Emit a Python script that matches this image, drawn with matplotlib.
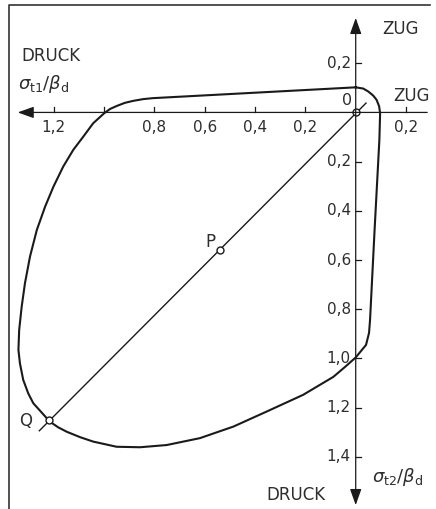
import matplotlib
matplotlib.use("Agg")
import matplotlib.pyplot as plt
import numpy as np

# Failure envelope (sigma1, sigma2)/beta_d, tension positive, compression negative
env_s1 = [0.000, 0.030, 0.050, 0.070, 0.083, 0.093, 0.097, 0.094, 0.075, 0.057,
          0.053, 0.041, 0.000, -0.043, -0.089, -0.209, -0.354, -0.486, -0.619,
          -0.751, -0.857, -0.950, -1.043, -1.095, -1.148, -1.182, -1.215, -1.281,
          -1.301, -1.321, -1.334, -1.340, -1.337, -1.327, -1.314, -1.294, -1.267,
          -1.234, -1.201, -1.162, -1.122, -1.082, -1.043, -0.999, -0.976, -0.950,
          -0.917, -0.884, -0.845, -0.807, 0.000]
env_s2 = [0.102, 0.097, 0.085, 0.068, 0.051, 0.025, -0.003, -0.112, -0.478, -0.843,
          -0.896, -0.945, -0.996, -1.035, -1.075, -1.148, -1.216, -1.277, -1.324,
          -1.352, -1.361, -1.359, -1.338, -1.320, -1.298, -1.280, -1.257, -1.182,
          -1.142, -1.087, -1.020, -0.965, -0.884, -0.789, -0.694, -0.586, -0.478,
          -0.383, -0.302, -0.220, -0.152, -0.098, -0.044, -0.003, 0.014, 0.026,
          0.039, 0.047, 0.054, 0.058, 0.102]

# Points on the diagonal
pts_name = ["0", "P", "Q"]
pts_s1 = [0.0, -0.539, -1.217]
pts_s2 = [0.0, -0.559, -1.250]
diag_s1 = [0.041, -1.257]
diag_s2 = [0.038, -1.294]

# Ticks
xticks = [-1.2, -1.0, -0.8, -0.6, -0.4, -0.2, 0.2]
xtick_labels = ["1,2", "", "0,8", "0,6", "0,4", "0,2", "0,2"]
yticks = [0.2, -0.2, -0.4, -0.6, -0.8, -1.0, -1.2, -1.4]
ytick_labels = ["0,2", "0,2", "0,4", "0,6", "0,8", "1,0", "1,2", "1,4"]

plt.rcParams['font.family'] = ['DejaVu Sans']
plt.rcParams['mathtext.fontset'] = 'dejavusans'

fig = plt.figure(figsize=(4.36, 5.09), dpi=100)
ax = fig.add_axes([0, 0, 1, 1])
ax.set_xlim(-1.4132, 0.319)
ax.set_ylim(-1.612, 0.457)
ax.axis('off')

ink = '#1a1a1a'
tc = '#2e2e2e'

# frame (left & top)
ax.plot([0.0195, 0.0195, 0.986], [0.0, 0.990, 0.990], transform=ax.transAxes,
        color='#333333', lw=1.2, clip_on=False)

# axes with arrows
ax.annotate('', xy=(-1.354, 0), xytext=(0.295, 0),
            arrowprops=dict(arrowstyle='-|>,head_length=0.7,head_width=0.25',
                            mutation_scale=14, lw=0.9, color=ink))
ax.annotate('', xy=(0, 0.384), xytext=(0, 0.0),
            arrowprops=dict(arrowstyle='-|>,head_length=0.7,head_width=0.25',
                            mutation_scale=14, lw=0.9, color=ink, shrinkA=0, shrinkB=0))
ax.annotate('', xy=(0, -1.596), xytext=(0, 0.0),
            arrowprops=dict(arrowstyle='-|>,head_length=0.7,head_width=0.25',
                            mutation_scale=14, lw=0.9, color=ink, shrinkA=0, shrinkB=0))

# ticks
for x, lab in zip(xticks, xtick_labels):
    ax.plot([x, x], [0, 0.022], color=ink, lw=0.9)
    if lab:
        ax.text(x, -0.062, lab, ha='center', va='center', fontsize=11, color=tc)
for y, lab in zip(yticks, ytick_labels):
    ax.plot([0, 0.022], [y, y], color=ink, lw=0.9)
    ax.text(-0.019, y, lab, ha='right', va='center', fontsize=11, color=tc)

# envelope
ax.plot(env_s1, env_s2, color=ink, lw=1.5, solid_joinstyle='round')

# diagonal
ax.plot(diag_s1, diag_s2, color=ink, lw=1.0)
ax.plot(pts_s1, pts_s2, 'o', ms=5, mfc='white', mec=ink, mew=1.0)

# labels
ax.text(0.176, 0.339, 'ZUG', ha='center', va='center', fontsize=12, color=tc)
ax.text(0.222, 0.067, 'ZUG', ha='center', va='center', fontsize=12, color=tc)
ax.text(-0.035, 0.047, '0', ha='center', va='center', fontsize=11.5, color=tc)
ax.text(-1.327, 0.230, 'DRUCK', ha='left', va='center', fontsize=12, color=tc)
ax.text(-1.342, 0.116, r'$\sigma_{\mathrm{t1}}/\beta_{\mathrm{d}}$', ha='left', va='center',
        fontsize=13, color=tc)
ax.text(-0.237, -1.555, 'DRUCK', ha='center', va='center', fontsize=12, color=tc)
ax.text(0.064, -1.482, r'$\sigma_{\mathrm{t2}}/\beta_{\mathrm{d}}$', ha='left', va='center',
        fontsize=13, color=tc)
ax.text(-0.579, -0.526, 'P', ha='center', va='center', fontsize=12, color=tc)
ax.text(-1.310, -1.254, 'Q', ha='center', va='center', fontsize=12, color=tc)

fig.savefig('out.png', dpi=100, facecolor='white')
